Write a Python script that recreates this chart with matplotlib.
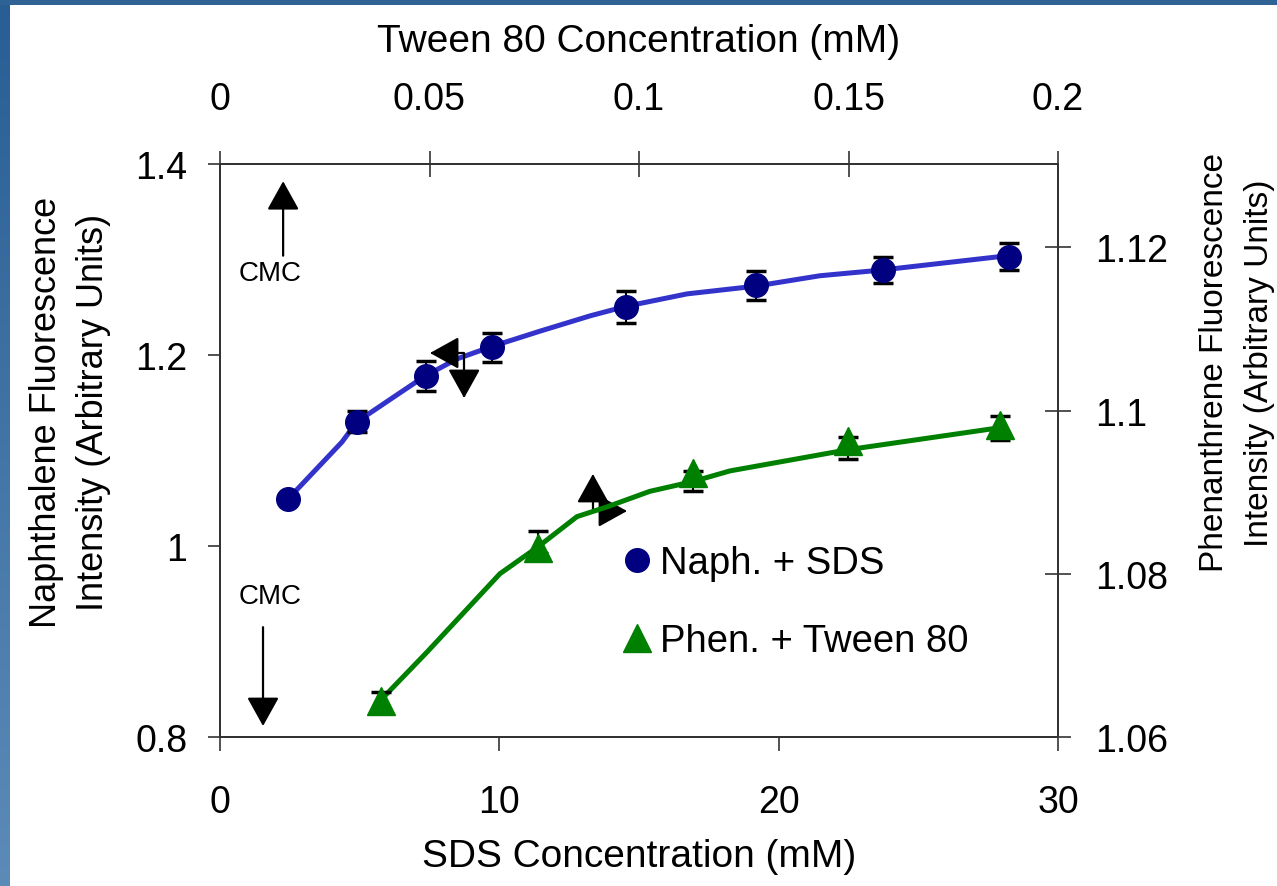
import numpy as np
import matplotlib.pyplot as plt
from matplotlib import font_manager
from matplotlib.lines import Line2D
from matplotlib.patches import Rectangle

plt.rcParams['font.family'] = 'Liberation Sans'

# Naphthalene + SDS (bottom axis / left axis)
sds_conc = [2.43, 4.90, 7.36, 9.74, 14.54, 19.18, 23.74, 28.24]
naph_int = [1.049, 1.130, 1.178, 1.208, 1.250, 1.273, 1.289, 1.303]
naph_err = [0.004, 0.011, 0.016, 0.015, 0.017, 0.015, 0.014, 0.014]

# smoothed curve through the naphthalene data
sds_fit = [2.43, 4.37, 4.90, 6.27, 7.34, 8.49, 9.74, 11.46, 13.25, 14.54,
           16.72, 19.15, 21.48, 23.70, 28.21]
naph_fit = [1.049, 1.109, 1.130, 1.157, 1.178, 1.196, 1.209, 1.225, 1.241,
            1.251, 1.264, 1.272, 1.283, 1.289, 1.304]

# Phenanthrene + Tween 80 (top axis / right axis)
tween_conc = [0.0384, 0.0759, 0.1129, 0.1499, 0.1862]
phen_int = [1.0644, 1.0831, 1.0924, 1.0963, 1.0982]
phen_err_lo = [0.0011, 0.0006, 0.0023, 0.0023, 0.0018]
phen_err_hi = [0.0011, 0.0021, 0.0002, 0.0004, 0.0011]

tween_fit = [0.0387, 0.0494, 0.0668, 0.0759, 0.0852, 0.0924, 0.1026,
             0.1129, 0.1217, 0.1499, 0.1862]
phen_fit = [1.0647, 1.0704, 1.0800, 1.0833, 1.0870, 1.0882, 1.0901,
            1.0913, 1.0926, 1.0952, 1.0979]

sds_ticks = [0, 10, 20, 30]
tween_ticks = [0, 0.05, 0.1, 0.15, 0.2]
tween_labels = ['0', '0.05', '0.1', '0.15', '0.2']
naph_ticks = [0.8, 1.0, 1.2, 1.4]
naph_labels = ['0.8', '1', '1.2', '1.4']
phen_ticks = [1.06, 1.08, 1.1, 1.12]
phen_labels = ['1.06', '1.08', '1.1', '1.12']

W, H = 1277, 887
fig = plt.figure(figsize=(W / 100, H / 100), dpi=100)

# slide frame: gradient strip on the left, flat strip on top
grad = np.linspace(0, 1, H)[:, None, None]
c_top = np.array([40, 94, 148]) / 255
c_bot = np.array([92, 139, 184]) / 255
strip = c_top + (c_bot - c_top) * grad
fig.figimage(np.repeat(strip, 10, axis=1), xo=0, yo=0, origin='upper')
fig.add_artist(Rectangle((0, 1 - 6 / H), 1, 6 / H, transform=fig.transFigure,
                         color='#2F6396', lw=0))

ax = fig.add_axes([220 / W, 1 - 738 / H, 838 / W, 573 / H])
axr = ax.twinx()
axt = axr.twiny()

for a in (ax, axr, axt):
    for s in a.spines.values():
        s.set_linewidth(1.2)
        s.set_color('#333333')

ax.set_xlim(0, 30)
ax.set_ylim(0.8, 1.4)
axr.set_ylim(1.06, 1.1302)
axt.set_xlim(0, 0.2)

ax.set_xticks(sds_ticks)
ax.set_yticks(naph_ticks)
ax.set_yticklabels(naph_labels)
axr.set_yticks(phen_ticks)
axr.set_yticklabels(phen_labels)
axt.set_xticks(tween_ticks)
axt.set_xticklabels(tween_labels)

ax.tick_params(axis='y', direction='out', length=8.6, width=1.2, pad=15,
               labelsize=27, color='#333333')
ax.tick_params(axis='x', direction='out', length=10, width=1.2, pad=24,
               labelsize=27, color='#333333')
axr.tick_params(axis='y', direction='inout', length=19, width=1.2, pad=17,
                labelsize=27, color='#333333')
axt.tick_params(axis='x', direction='inout', length=19, width=1.2, pad=24,
                labelsize=27, color='#333333')

# naphthalene series
ax.plot(sds_fit, naph_fit, color='#3333CC', lw=3.6, zorder=2)
ax.errorbar(sds_conc, naph_int, yerr=naph_err, fmt='none', ecolor='black',
            elinewidth=1.5, capsize=7, capthick=2.5, zorder=3)
ax.plot(sds_conc, naph_int, ls='none', marker='o', ms=17, color='#000080',
        zorder=4)

# phenanthrene series
axt.plot(tween_fit, phen_fit, color='#008000', lw=3.6, zorder=2)
axt.errorbar(tween_conc, phen_int, yerr=[phen_err_lo, phen_err_hi], fmt='none',
             ecolor='black', elinewidth=1.5, capsize=7, capthick=2.5, zorder=3)
axt.plot(tween_conc, phen_int, ls='none', marker='^', ms=20, color='#008000',
         zorder=4)

# CMC markers
head = '-|>,head_length=0.9,head_width=0.5'
ax.annotate('', xy=(2.26, 1.382), xytext=(2.26, 1.304),
            arrowprops=dict(arrowstyle=head, mutation_scale=20, lw=1.6,
                            color='black', shrinkA=0, shrinkB=0))
ax.text(1.79, 1.286, 'CMC', fontsize=20, ha='center', va='center')
ax.annotate('', xy=(1.54, 0.8115), xytext=(1.54, 0.915),
            arrowprops=dict(arrowstyle=head, mutation_scale=20, lw=1.6,
                            color='black', shrinkA=0, shrinkB=0))
ax.text(1.79, 0.9476, 'CMC', fontsize=20, ha='center', va='center')

both = '<|-|>,head_length=0.9,head_width=0.5'
ax.annotate('', xy=(8.74, 1.155), xytext=(7.52, 1.2021),
            arrowprops=dict(arrowstyle=both, mutation_scale=20, lw=1.6,
                            color='black', shrinkA=0, shrinkB=0,
                            connectionstyle='angle,angleA=0,angleB=90,rad=0'),
            zorder=5)
ax.annotate('', xy=(14.57, 1.0366), xytext=(13.35, 1.0754),
            arrowprops=dict(arrowstyle=both, mutation_scale=20, lw=1.6,
                            color='black', shrinkA=0, shrinkB=0,
                            connectionstyle='angle,angleA=90,angleB=0,rad=0'),
            zorder=5)

handles = [Line2D([], [], ls='none', marker='o', ms=17, color='#000080'),
           Line2D([], [], ls='none', marker='^', ms=20, color='#008000')]
axt.legend(handles, ['Naph. + SDS', 'Phen. + Tween 80'], loc='center left',
           bbox_to_anchor=(0.484, 0.235), frameon=False, fontsize=27.5,
           handlelength=0.6, handletextpad=0.3, labelspacing=1.1,
           borderpad=0, borderaxespad=0)

# axis titles
names = {f.name for f in font_manager.fontManager.ttflist}
if 'Liberation Sans Narrow' in names:
    right_font, right_size = 'Liberation Sans Narrow', 26
else:
    right_font, right_size = 'Liberation Sans', 24

fig.text(639 / W, 1 - 42 / H, 'Tween 80 Concentration (mM)', fontsize=28,
         ha='center', va='center')
fig.text(639 / W, 1 - 857 / H, 'SDS Concentration (mM)', fontsize=28,
         ha='center', va='center')
fig.text(70 / W, 1 - 412 / H, 'Naphthalene Fluorescence\nIntensity (Arbitrary Units)',
         fontsize=26, rotation=90, ha='center', va='center',
         multialignment='center', linespacing=1.45)
fig.text(1237 / W, 1 - 363 / H, 'Phenanthrene Fluorescence\nIntensity (Arbitrary Units)',
         fontsize=right_size, family=right_font, rotation=90, ha='center',
         va='center', multialignment='center', linespacing=1.6)

fig.savefig('out.png', dpi=100)
